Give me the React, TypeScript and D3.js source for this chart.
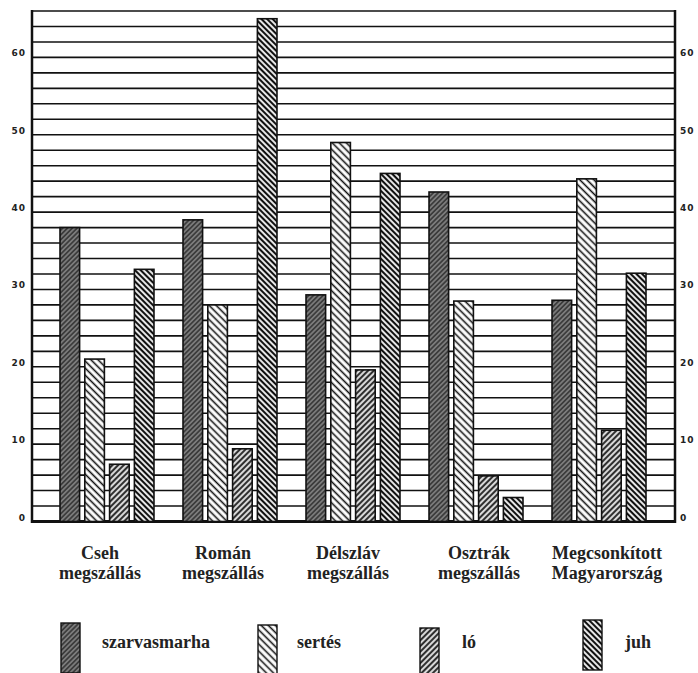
import React from "react";
import * as d3 from "d3";

const categories = [
  ["Cseh", "megszállás"],
  ["Román", "megszállás"],
  ["Délszláv", "megszállás"],
  ["Osztrák", "megszállás"],
  ["Megcsonkított", "Magyarország"],
];
const seriesNames = ["szarvasmarha", "sertés", "ló", "juh"];
const szarvasmarha = [38, 39, 29.3, 42.6, 28.6];
const sertes = [21, 28, 49, 28.5, 44.3];
const lo = [7.4, 9.4, 19.6, 5.9, 11.8];
const juh = [32.6, 65, 45, 3.1, 32.1];
const seriesValues = [szarvasmarha, sertes, lo, juh];
const tickValues = [0, 10, 20, 30, 40, 50, 60];

const W = 698;
const H = 673;
const left = 32;
const right = 675;
const top = 11;
const bottom = 521.5;

const patterns = [
  { id: "p0", bg: "#3c3c3c", line: "#a8a8a8", w: 1, gap: 3.4, angle: 45 },
  { id: "p1", bg: "#ffffff", line: "#111", w: 1.6, gap: 5, angle: -45 },
  { id: "p2", bg: "#d8d8d8", line: "#111", w: 1.7, gap: 4, angle: 45 },
  { id: "p3", bg: "#ffffff", line: "#111", w: 2.2, gap: 4, angle: -45 },
];

export default function App() {
  const y = d3.scaleLinear().domain([0, 66]).range([bottom, top]);
  const x0 = d3
    .scaleBand<number>()
    .domain(d3.range(categories.length))
    .range([60, 646])
    .paddingInner(0.236)
    .paddingOuter(0);
  const x1 = d3
    .scaleBand<number>()
    .domain(d3.range(seriesNames.length))
    .range([0, x0.bandwidth()])
    .paddingInner(0.21)
    .paddingOuter(0);
  const grid = d3.range(0, 67, 2);
  const legendX = [61, 258, 420, 583];
  const legendY = [623, 625, 628, 620];
  const legendTextX = [102, 297, 462, 625];
  const labelShift = [-7, -7, -5, 3, 8];

  return (
    <svg width={W} height={H} style={{ position: "absolute", left: 0, top: 0, background: "#fff" }}>
      <defs>
        {patterns.map((p) => (
          <pattern
            key={p.id}
            id={p.id}
            width={p.gap}
            height={10}
            patternUnits="userSpaceOnUse"
            patternTransform={`rotate(${p.angle})`}
          >
            <rect width={p.gap} height={10} fill={p.bg} />
            <line x1={p.gap / 2} y1={0} x2={p.gap / 2} y2={10} stroke={p.line} strokeWidth={p.w} />
          </pattern>
        ))}
      </defs>
      <rect width={W} height={H} fill="#fff" />
      {grid.map((g) => (
        <line
          key={g}
          x1={left}
          x2={right}
          y1={y(g)}
          y2={y(g)}
          stroke="#111"
          strokeWidth={g === 0 ? 3 : 1.6}
        />
      ))}
      <line x1={left} x2={left} y1={top - 1} y2={bottom + 1.5} stroke="#111" strokeWidth={2.5} />
      <line x1={right} x2={right} y1={top - 1} y2={bottom + 1.5} stroke="#111" strokeWidth={2.5} />
      {tickValues.map((t) => (
        <g key={t} fontFamily="DejaVu Sans" fontWeight="bold" fontSize={9} fill="#222" letterSpacing={1}>
          <text x={26} y={y(t) - 1} textAnchor="end">
            {t}
          </text>
          <text x={680} y={y(t) - 1} textAnchor="start">
            {t}
          </text>
        </g>
      ))}
      {categories.map((c, ci) => (
        <g key={ci} transform={`translate(${x0(ci)},0)`}>
          {seriesValues.map((vals, si) => (
            <rect
              key={si}
              x={x1(si)}
              y={y(vals[ci])}
              width={x1.bandwidth()}
              height={y(0) - y(vals[ci])}
              fill={`url(#p${si})`}
              stroke="#111"
              strokeWidth={1.6}
            />
          ))}
        </g>
      ))}
      {categories.map((c, ci) => {
        const cx = (x0(ci) as number) + x0.bandwidth() / 2 + labelShift[ci];
        return (
          <text
            key={ci}
            textAnchor="middle"
            fontFamily="Liberation Serif"
            fontWeight="bold"
            fontSize={18}
            fill="#222"
          >
            <tspan x={cx} y={559}>
              {c[0]}
            </tspan>
            <tspan x={cx} y={579}>
              {c[1]}
            </tspan>
          </text>
        );
      })}
      {seriesNames.map((s, si) => (
        <g key={s}>
          <rect
            x={legendX[si]}
            y={legendY[si]}
            width={19}
            height={50}
            fill={`url(#p${si})`}
            stroke="#111"
            strokeWidth={1.4}
          />
          <text x={legendTextX[si]} y={648} fontFamily="Liberation Serif" fontWeight="bold" fontSize={18} fill="#222">
            {s}
          </text>
        </g>
      ))}
    </svg>
  );
}
